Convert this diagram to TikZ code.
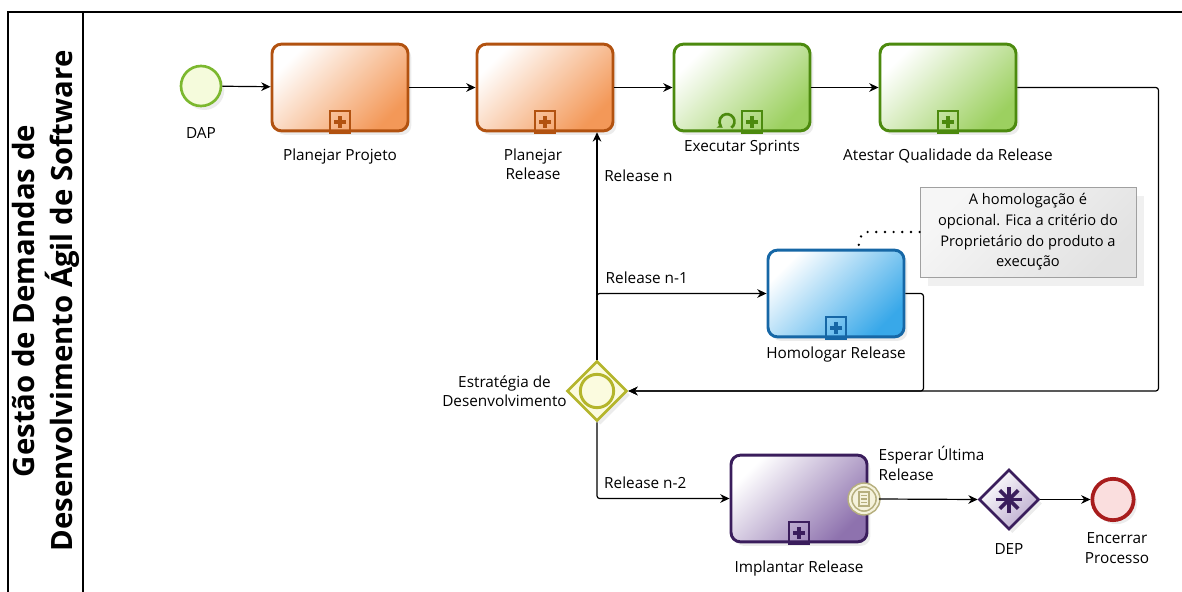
\documentclass[tikz,border=0pt]{standalone}
\usepackage{fontspec}
\setmainfont{Open Sans}
\usetikzlibrary{positioning,shapes.geometric,shadows,arrows.meta}

\definecolor{orngline}{RGB}{178,82,16}
\definecolor{orngfill}{RGB}{243,152,88}
\definecolor{grnline}{RGB}{76,138,14}
\definecolor{grnfill}{RGB}{156,208,96}
\definecolor{bluline}{RGB}{22,103,166}
\definecolor{blufill}{RGB}{56,168,233}
\definecolor{prpline}{RGB}{58,29,92}
\definecolor{prpfill}{RGB}{142,114,174}
\definecolor{dapline}{RGB}{124,184,47}
\definecolor{dapfill}{RGB}{245,251,220}
\definecolor{gwline}{RGB}{180,181,44}
\definecolor{gwfill}{RGB}{251,251,223}
\definecolor{evline}{RGB}{182,175,126}
\definecolor{evfill}{RGB}{245,242,220}
\definecolor{endline}{RGB}{168,28,28}
\definecolor{endfill}{RGB}{250,222,222}
\definecolor{annline}{RGB}{160,160,160}
\definecolor{annfill}{RGB}{226,226,226}

\begin{document}
\begin{tikzpicture}[x=0.75pt,y=-0.75pt,>={Stealth[length=7pt,width=6.5pt]},
  lbl/.style={font=\fontsize{11.5}{14.5}\selectfont,inner sep=1pt,align=center},
  shade/.style={drop shadow={shadow xshift=2.5pt,shadow yshift=-3pt,opacity=0.15}},
  task/.style={draw=#1line,line width=2.2pt,rounded corners=7pt,minimum width=102pt,
    minimum height=65pt,top color=white,bottom color=#1fill,shading angle=45,shade},
  event/.style={circle,draw=#1line,fill=#1fill,minimum size=30pt,inner sep=0pt,shade},
  gate/.style={diamond,draw=#1line,line width=2pt,minimum width=45pt,minimum height=45pt,
    inner sep=0pt,shade},
  flow/.style={->,line width=0.9pt,rounded corners=2pt}]
\useasboundingbox (0,0) rectangle (1182,592);

% lane
\draw[line width=1.1pt] (8,592) |- (1182,12);
\draw[line width=1.1pt] (83,12) -- (83,592);
\node[rotate=90,align=center,font=\fontsize{22}{28.5}\selectfont\bfseries] (lane) at (46,301)
  {Gestão de Demandas de\\Desenvolvimento Ágil de Software};

% nodes
\node[event=dap,line width=2pt] (dap) at (201,86) {};
\node[task=orng] (pp) at (340,87.5) {};
\node[task=orng] (pr) at (545,87.5) {};
\node[task=grn] (ex) at (742,87.5) {};
\node[task=grn] (aq) at (948,87.5) {};
\node[task=blu] (ho) at (836,293.5) {};
\node[task=prp] (im) at (799,498.5) {};
\node[gate=gw,fill=gwfill] (gw) at (597,391) {};
\node[gate=prp,top color=white,bottom color=prpfill!60,shading angle=45] (dep) at (1009,499.5) {};
\node[event=end,line width=2.8pt,minimum size=31pt] (fim) at (1113,499.5) {};
\node[circle,draw=evline,fill=evfill,line width=1.2pt,minimum size=21pt,inner sep=0pt,
  double=evfill,double distance=1.6pt] (ev) at (864,499) {};
\node[draw=annline,line width=0.6pt,top color=white!70!annfill,bottom color=annfill,
  shading angle=45,minimum width=162pt,minimum height=67.5pt,align=center,
  font=\fontsize{11}{15.5}\selectfont,
  drop shadow={shadow xshift=6pt,shadow yshift=-7pt,opacity=0.12}] (ann) at (1028,232)
  {A homologação é\\opcional. Fica a critério do\\Proprietário do produto a\\execução};

% markers
\foreach \t/\c/\dx in {pp/orng/0,pr/orng/0,ex/grn/10,aq/grn/0,ho/blu/0,im/prp/0}{
  \begin{scope}[shift={(\t.south)}]
    \draw[\c line,line width=1.3pt] ({\dx-10},1) rectangle ({\dx+10},-21);
    \draw[\c line,line width=3.2pt] ({\dx-6},-10) -- ({\dx+6},-10) (\dx,-16) -- (\dx,-4);
  \end{scope}}
\draw[grnline,line width=2pt,-{Stealth[length=4pt,width=5pt]}]
  ([xshift=-11.25pt,yshift=8pt]ex.south) ++(55:7.5) arc[start angle=55,end angle=-235,radius=7.5];
\begin{scope}[shift={(ev.center)}]
  \draw[evline,line width=1pt] (-5,-7) rectangle (5,7);
  \foreach \yy in {-3.5,0,3.5} \draw[evline,line width=1pt] (-3,\yy) -- (3,\yy);
\end{scope}
\draw[gwline,line width=2.2pt] (gw.center) circle (12.5pt);
\foreach \a in {0,45,90,135}
  \draw[prpline,line width=2.8pt] (dep.center) ++(\a:13) -- ++(\a+180:26);

% labels
\node[lbl,below=14pt of dap] {DAP};
\node[lbl,below=11pt of pp] {Planejar Projeto};
\node[lbl,below=11pt of pr,xshift=-9pt] {Planejar\\Release};
\node[lbl,below=5pt of ex] {Executar Sprints};
\node[lbl,below=11pt of aq] {Atestar Qualidade da Release};
\node[lbl,below=5pt of ho] {Homologar Release};
\node[lbl,below=12pt of im] {Implantar Release};
\node[lbl,left=-2pt of gw] {Estratégia de\\Desenvolvimento};
\node[lbl,below=8pt of dep] {DEP};
\node[lbl,below=7pt of fim,xshift=3pt] {Encerrar\\Processo};
\node[lbl,align=left,anchor=south west] at ([xshift=2pt,yshift=5pt]ev.north east)
  {Esperar Última\\Release};

% flows
\draw[flow] (dap) -- (pp);
\draw[flow] (pp) -- (pr);
\draw[flow] (pr) -- (ex);
\draw[flow] (ex) -- (aq);
\draw[flow] (aq.east) -- ++(141,0) |- (gw.east);
\draw[flow] (ho.east) -- ++(18,0) |- (gw.east);
\draw[flow] (gw.north) -- (gw.north |- pr.south)
  node[lbl,pos=0.81,anchor=west,xshift=4pt] {Release n};
\draw[flow] (gw.north) |- (ho.west)
  node[lbl,pos=0.52,anchor=south west,yshift=6pt] {Release n-1};
\draw[flow] (gw.south) |- (im.west)
  node[lbl,pos=0.52,anchor=south west,yshift=6pt] {Release n-2};
\draw[flow] (ev.east) -- (dep.west);
\draw[flow] (dep) -- (fim);
\coordinate (hotop) at ([xshift=16.5pt]ho.north);
\draw[line width=2pt,line cap=round,dash pattern=on 0pt off 6.5pt]
  (ann.west) -- ++(-54,0) to[out=180,in=-90] (hotop);
\end{tikzpicture}
\end{document}
